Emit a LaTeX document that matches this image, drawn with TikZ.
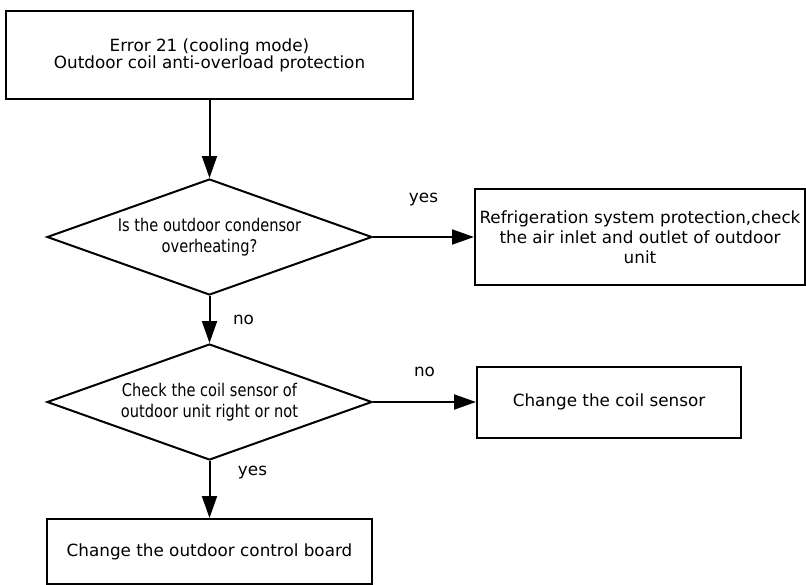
\documentclass[tikz,border=0pt]{standalone}
\usepackage{fontspec}
\setmainfont{DejaVu Sans}
\newfontfamily\narrowfont[FakeStretch=0.835]{DejaVu Sans}
\usetikzlibrary{arrows.meta,positioning,shapes.geometric}
\tikzset{
  procbox/.style={rectangle, draw=black, line width=2pt, fill=white, align=center,
                  font=\fontsize{16.8}{20}\selectfont, inner sep=0pt},
  chk/.style={diamond, aspect=2.8, draw=black, line width=2pt, fill=white, align=center,
              font=\narrowfont\fontsize{17.5}{21}\selectfont, inner sep=0pt,
              minimum width=325pt, minimum height=116pt},
  arr/.style={-{Triangle[length=22pt, width=15pt]}, line width=2pt},
  lbl/.style={font=\fontsize{16.8}{18}\selectfont, inner sep=0pt},
}
\begin{document}
\begin{tikzpicture}[x=1pt, y=1pt, node distance=47pt and 101pt]
\useasboundingbox (0,0) rectangle (806,-584);
\node[procbox, minimum width=407pt, minimum height=88pt, font=\fontsize{16.8}{17}\selectfont] (start) at (209.5,-55)
  {Error 21 (cooling mode)\\Outdoor coil anti-overload protection};
\node[chk, below=78pt of start] (cond) {Is the outdoor condensor\\overheating?};
\node[procbox, right=101pt of cond, minimum width=330pt, minimum height=96pt] (refr)
  {Refrigeration system protection,check\\the air inlet and outlet of outdoor\\unit};
\node[chk, below=of cond] (sens) {Check the coil sensor of\\outdoor unit right or not};
\node[procbox, right=103pt of sens, minimum width=264pt, minimum height=71pt] (chsens) {Change the coil sensor};
\node[procbox, below=57pt of sens, minimum width=325pt, minimum height=65pt] (board) {Change the outdoor control board};
\draw[arr] (start) -- (cond);
\draw[arr] (cond) -- node[lbl, yshift=37pt] (yesA) {yes} (refr);
\draw[arr] (cond) -- node[lbl, xshift=34pt] (noA) {no} (sens);
\draw[arr] (sens) -- node[lbl, yshift=30pt] (noB) {no} (chsens);
\draw[arr] (sens) -- node[lbl, xshift=43pt, yshift=17pt] (yesB) {yes} (board);
\end{tikzpicture}
\end{document}
